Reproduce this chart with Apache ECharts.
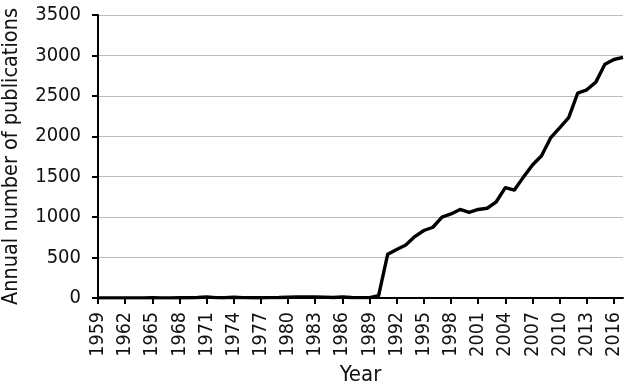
<!DOCTYPE html>
<html>
<head>
<meta charset="utf-8">
<script src="https://cdn.jsdelivr.net/npm/echarts@6/dist/echarts.min.js"></script>
<style>html,body{margin:0;padding:0;background:#fff}#c{width:630px;height:385px}</style>
</head>
<body>
<div id="c"></div>
<script>
var years = [];
for (var yr = 1959; yr <= 2017; yr++) years.push(String(yr));
var publications = [
  2, 1, 1, 2, 1, 2, 3, 2, 2, 3, 4, 6,
  12, 5, 4, 10, 5, 4, 4, 5, 6, 10, 12, 12,
  12, 11, 6, 12, 7, 5, 5, 30,
  540, 600, 655, 760, 835, 875, 1000, 1040, 1095, 1060,
  1095, 1110, 1190, 1365, 1335, 1495, 1645, 1760, 1980, 2105,
  2230, 2535, 2575, 2670, 2890, 2950, 2975
];
var yTicks = [0, 500, 1000, 1500, 2000, 2500, 3000, 3500];
var yAxisTitle = 'Annual number of publications';
var xAxisTitle = 'Year';

var FONT = '"DejaVu Sans Condensed", "Liberation Sans Narrow", "Roboto", sans-serif';
var chart = echarts.init(document.getElementById('c'), null, {renderer: 'canvas'});
chart.setOption({
  animation: false,
  backgroundColor: '#fff',
  grid: {left: 98, right: 7, top: 15, bottom: 87, containLabel: false, outerBoundsMode: 'none'},
  xAxis: {
    type: 'category',
    data: years,
    boundaryGap: false,
    name: xAxisTitle,
    nameLocation: 'middle',
    nameGap: 64,
    nameTextStyle: {fontFamily: FONT, fontSize: 22, color: '#111', verticalAlign: 'top'},
    axisLine: {lineStyle: {color: '#000', width: 2}},
    axisTick: {show: true, interval: 2, length: 6, lineStyle: {color: '#000', width: 2}},
    axisLabel: {interval: 2, rotate: 90, fontFamily: FONT, fontSize: 19.5, color: '#111', margin: 14},
    splitLine: {show: false}
  },
  yAxis: {
    type: 'value',
    min: yTicks[0],
    max: yTicks[yTicks.length - 1],
    interval: 500,
    name: yAxisTitle,
    nameLocation: 'middle',
    nameGap: 76,
    nameTextStyle: {fontFamily: FONT, fontSize: 21.5, color: '#111'},
    axisLine: {show: true, lineStyle: {color: '#000', width: 2}},
    axisTick: {show: true, length: 6, lineStyle: {color: '#000', width: 2}},
    axisLabel: {fontFamily: FONT, fontSize: 20, color: '#111', margin: 17,
      formatter: function (v) { return String(v); }},
    splitLine: {show: true, lineStyle: {color: '#bcbcbc', width: 1}}
  },
  series: [{
    type: 'line',
    data: publications,
    symbol: 'none',
    lineStyle: {color: '#000', width: 3.4, join: 'round'}
  }]
});
</script>
</body>
</html>
